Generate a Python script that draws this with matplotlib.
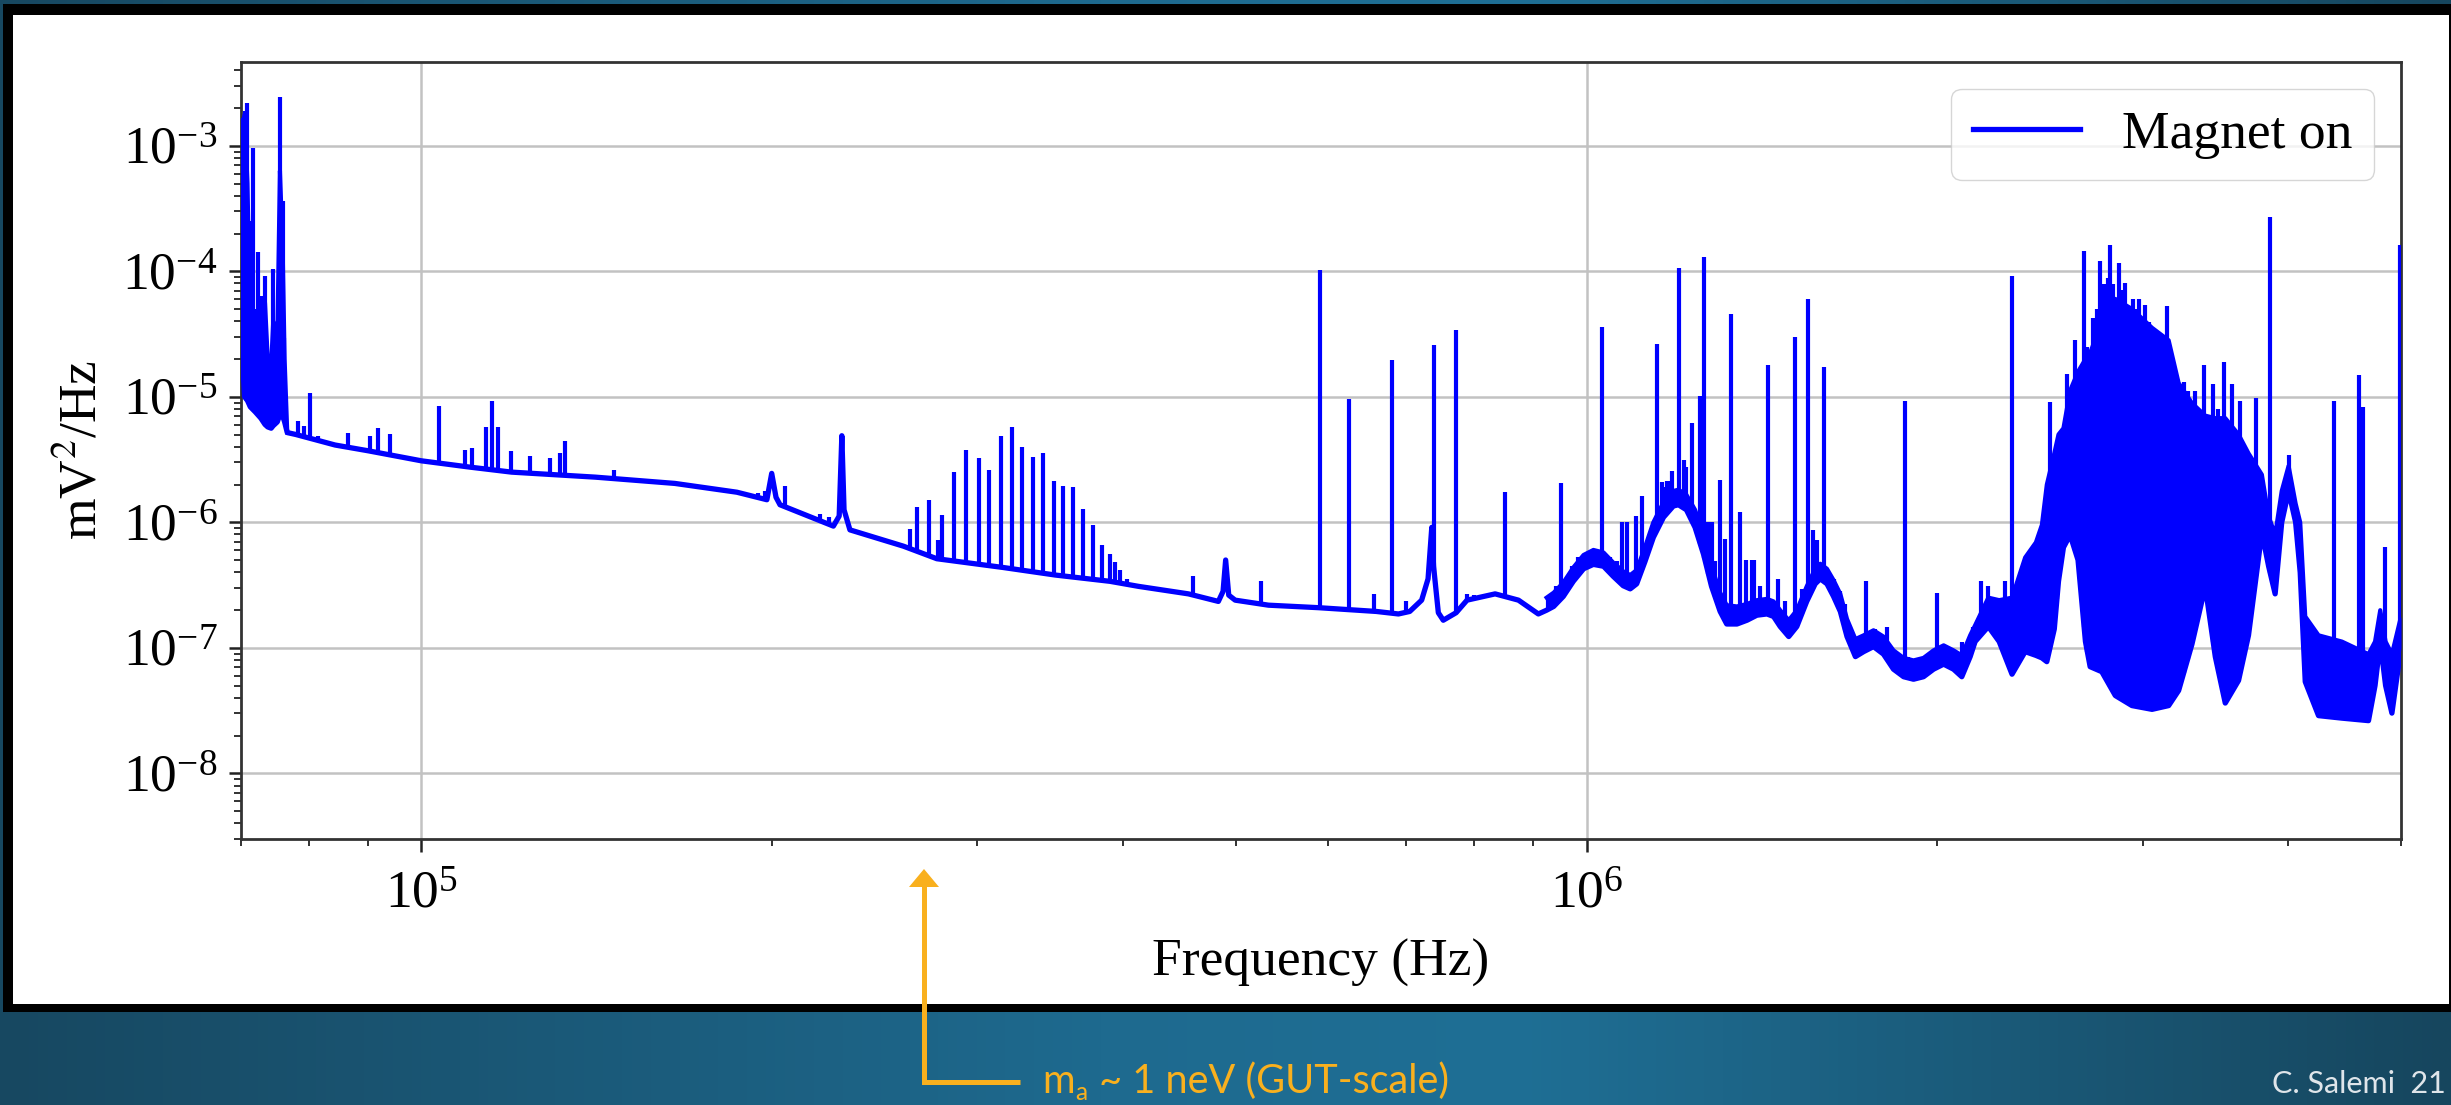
import numpy as np
import matplotlib
matplotlib.use("Agg")
import matplotlib.pyplot as plt
from matplotlib.patches import Rectangle, Polygon
from matplotlib.colors import LinearSegmentedColormap

# ---------------------------------------------------------------------------
# Power spectral density, "Magnet on" run.  Levels are stored as log10(mV^2/Hz)
# ---------------------------------------------------------------------------

# dense low-frequency pickup region: lower / upper edge of the filled trace
band1_freq = [70.0e3, 70.5e3, 70.9e3, 71.3e3, 72.0e3, 72.8e3, 73.4e3, 73.8e3,
              74.3e3, 74.6e3, 75.2e3, 75.6e3, 76.0e3, 76.3e3, 76.7e3]
band1_low = [-4.50, -5.00, -5.03, -5.08, -5.12, -5.17, -5.22, -5.24,
             -5.25, -5.23, -5.20, -5.14, -5.15, -5.20, -5.285]
band1_high = [-2.90, -2.75, -3.30, -4.50, -4.45, -4.30, -4.25, -4.70,
              -4.75, -4.40, -4.55, -3.20, -3.80, -4.70, -5.285]

# smooth noise floor between the two dense regions
floor_freq = [78.0e3, 84.3e3, 90e3, 100e3, 110e3, 119.5e3, 130e3, 141e3, 165e3,
              186.5e3, 197.9e3, 199.8e3, 201.5e3, 203.1e3, 225.7e3, 228.3e3,
              229.5e3, 230.5e3, 233.2e3, 259.2e3, 276.9e3, 315.8e3, 350e3,
              389.9e3, 412.4e3, 455.3e3, 483e3, 487.5e3, 490e3, 493e3, 499.3e3,
              533.3e3, 588.8e3, 660e3, 689.4e3, 705e3, 721.8e3, 731e3, 736.4e3,
              739e3, 746e3, 753.3e3, 772.7e3, 789.5e3, 834.6e3, 874e3, 909e3]
floor_log = [-5.30, -5.384, -5.43, -5.51, -5.56, -5.60, -5.62, -5.64, -5.69,
             -5.76, -5.82, -5.61, -5.80, -5.86, -6.03, -5.95,
             -5.31, -5.90, -6.06, -6.19, -6.29, -6.36, -6.42,
             -6.47, -6.51, -6.57, -6.63, -6.55, -6.30, -6.58, -6.62,
             -6.66, -6.68, -6.71, -6.73, -6.71, -6.62, -6.45, -6.04,
             -6.35, -6.72, -6.78, -6.72, -6.62, -6.57, -6.62, -6.73]

# high-frequency region: resonance humps and the dense oscillation band
band2_freq = [924e3, 937e3, 955e3, 974e3, 994e3, 1.0135e6, 1.034e6, 1.054e6,
              1.075e6, 1.090e6, 1.104e6, 1.122e6, 1.141e6, 1.164e6, 1.187e6,
              1.199e6, 1.218e6, 1.239e6, 1.260e6, 1.280e6, 1.302e6, 1.319e6,
              1.346e6, 1.373e6, 1.400e6, 1.428e6, 1.447e6, 1.466e6, 1.491e6,
              1.515e6, 1.545e6, 1.571e6, 1.587e6, 1.608e6, 1.629e6, 1.651e6,
              1.673e6, 1.701e6, 1.729e6, 1.763e6, 1.798e6, 1.834e6, 1.871e6,
              1.908e6, 1.946e6, 1.985e6, 2.025e6, 2.065e6, 2.099e6, 2.134e6,
              2.155e6,
              2.212e6, 2.26e6, 2.318e6, 2.379e6, 2.43e6, 2.459e6, 2.483e6,
              2.52e6, 2.541e6, 2.566e6, 2.600e6, 2.641e6, 2.68e6, 2.705e6,
              2.768e6, 2.843e6, 2.938e6, 3.057e6, 3.159e6, 3.222e6, 3.308e6,
              3.396e6, 3.464e6, 3.533e6, 3.627e6, 3.699e6, 3.798e6, 3.849e6,
              3.899e6, 3.95e6, 4.004e6, 4.06e6, 4.097e6, 4.138e6, 4.248e6,
              4.449e6, 4.689e6, 4.75e6, 4.799e6, 4.85e6, 4.911e6, 5.0e6]
band2_low = [-6.70, -6.67, -6.59, -6.47, -6.37, -6.335, -6.35, -6.43,
             -6.505, -6.53, -6.49, -6.315, -6.12, -5.96, -5.87,
             -5.86, -5.90, -6.04, -6.255, -6.51, -6.71, -6.81,
             -6.81, -6.78, -6.74, -6.73, -6.75, -6.83, -6.91,
             -6.83, -6.63, -6.49, -6.45, -6.49, -6.59, -6.71,
             -6.91, -7.07, -7.03, -6.99, -7.05, -7.17, -7.23,
             -7.25, -7.23, -7.17, -7.13, -7.17, -7.23, -7.07,
             -6.95,
             -6.83, -6.95, -7.21, -7.03, -7.06, -7.08, -7.11,
             -6.85, -6.47, -6.20, -6.10, -6.30, -6.95, -7.15,
             -7.19, -7.38, -7.46, -7.49, -7.46, -7.34, -6.97,
             -6.51, -7.07, -7.44, -7.26, -6.90, -6.08, -6.35,
             -6.57, -6.00, -5.75, -6.00, -6.40, -7.27, -7.54,
             -7.56, -7.58, -7.30, -6.95, -7.30, -7.52, -7.00]
band2_high = [-6.60, -6.56, -6.48, -6.36, -6.26, -6.22, -6.24, -6.32,
              -6.39, -6.42, -6.38, -6.20, -6.00, -5.84, -5.75,
              -5.74, -5.78, -5.90, -6.10, -6.35, -6.56, -6.66,
              -6.67, -6.65, -6.62, -6.61, -6.63, -6.70, -6.78,
              -6.70, -6.51, -6.37, -6.33, -6.37, -6.46, -6.57,
              -6.77, -6.93, -6.90, -6.86, -6.91, -7.02, -7.08,
              -7.10, -7.08, -7.02, -6.98, -7.02, -7.06, -6.90,
              -6.82,
              -6.60, -6.62, -6.60, -6.28, -6.16, -6.02, -5.70,
              -5.45, -5.30, -5.25, -4.95, -4.80, -4.70, -4.65,
              -4.40, -4.22, -4.30, -4.45, -4.55, -4.89, -5.05,
              -5.15, -5.17, -5.17, -5.30, -5.45, -5.62, -5.95,
              -6.10, -5.75, -5.55, -5.85, -6.00, -6.75, -6.90,
              -6.95, -7.05, -6.95, -6.70, -6.95, -7.05, -6.75]

# narrow lines standing on the floor: frequency (Hz) and peak level
spike_freq = [
    70.2e3, 70.5e3, 70.9e3, 71.3e3, 71.7e3, 72.1e3, 72.4e3, 72.9e3, 73.4e3,
    74.0e3, 74.6e3, 75.1e3, 75.6e3, 76.0e3, 76.2e3,
    78.3e3, 79.3e3, 80.2e3, 81.5e3, 86.5e3, 90.3e3, 91.7e3, 94.0e3, 103.6e3,
    109e3, 110.5e3, 113.7e3, 114.9e3, 116.4e3, 119.3e3, 123.8e3, 128.8e3,
    131.5e3, 132.8e3, 146.3e3,
    192.8e3, 194.6e3, 197.2e3, 205.2e3, 219.9e3, 223.9e3,
    262.7e3, 266.1e3, 272.9e3, 277.8e3, 280.0e3, 286.5e3, 293.5e3, 300.7e3,
    307.2e3, 314.2e3, 321.0e3, 327.9e3, 335.1e3, 341.8e3, 348.7e3, 355.6e3,
    362.7e3, 369.9e3, 376.8e3, 383.6e3,
    389.9e3, 393.8e3, 397.7e3, 403e3, 459.8e3, 525.6e3, 590.7e3, 625.8e3,
    657.5e3, 680.5e3, 700e3, 740e3, 772.7e3, 789.5e3, 799.7e3, 851.3e3,
    951e3, 980e3, 1.030e6, 1.072e6, 1.083e6, 1.102e6, 1.115e6, 1.150e6,
    1.165e6, 1.18e6, 1.201e6, 1.215e6, 1.231e6, 1.252e6, 1.262e6, 1.28e6,
    1.302e6, 1.315e6, 1.331e6, 1.353e6, 1.37e6, 1.386e6, 1.431e6, 1.46e6,
    1.510e6, 1.550e6, 1.564e6, 1.600e6, 1.63e6, 1.651e6, 1.738e6, 1.810e6,
    1.877e6, 1.999e6, 2.10e6,
    2.318e6, 2.500e6, 2.533e6, 2.583e6, 2.626e6, 2.65e6, 2.673e6, 2.69e6,
    2.723e6, 2.74e6, 2.759e6, 2.780e6, 2.80e6, 2.815e6, 2.83e6, 2.862e6,
    2.88e6, 2.900e6, 2.942e6, 2.96e6, 2.977e6, 3.016e6, 3.04e6, 3.077e6,
    3.11e6, 3.149e6, 3.201e6, 3.254e6, 3.28e6, 3.33e6, 3.385e6, 3.45e6,
    3.48e6, 3.521e6, 3.58e6, 3.639e6, 3.756e6, 3.861e6, 4.004e6, 4.376e6,
    4.598e6, 4.635e6, 4.84e6, 4.99e6]
spike_log = [
    -2.78, -2.72, -2.663, -3.60, -3.016, -4.30, -3.85, -4.20, -4.04,
    -4.67, -3.98, -4.60, -2.61, -3.44, -4.53,
    -5.19, -5.23, -4.97, -5.31, -5.29, -5.31, -5.25, -5.30, -5.075,
    -5.42, -5.41, -5.24, -5.03, -5.24, -5.43, -5.47, -5.49,
    -5.45, -5.35, -5.58,
    -5.79, -5.77, -5.75, -5.71, -5.93, -5.96,
    -6.05, -5.88, -5.82, -6.14, -5.94, -5.60, -5.42, -5.49,
    -5.58, -5.31, -5.24, -5.40, -5.48, -5.45, -5.67, -5.71,
    -5.72, -5.89, -6.02, -6.18,
    -6.25, -6.32, -6.38, -6.45, -6.43, -6.47, -3.99, -5.02,
    -6.57, -4.71, -6.63, -4.59, -4.47, -6.57, -6.58, -5.76,
    -5.69, -6.38, -4.44, -6.00, -6.00, -5.95, -5.79, -4.58,
    -5.72, -5.67, -3.97, -5.60, -5.21, -4.99, -3.89, -6.00,
    -5.66, -6.13, -4.34, -5.92, -6.30, -6.30, -4.75, -6.45,
    -4.52, -4.22, -6.06, -4.76, -6.45, -6.55, -6.47, -6.83,
    -5.03, -6.56, -6.95,
    -4.04, -5.04, -5.40, -4.82, -4.55, -4.78, -3.84, -4.60,
    -4.37, -4.30, -3.92, -4.10, -4.05, -3.79, -4.10, -3.93,
    -4.15, -4.09, -4.22, -4.30, -4.22, -4.27, -4.40, -4.48,
    -4.50, -4.28, -4.80, -4.88, -4.95, -4.95, -4.75, -4.90,
    -5.10, -4.72, -4.90, -5.03, -5.01, -3.57, -5.46, -5.03,
    -4.83, -5.08, -6.20, -3.79]

# short lines riding on the resonance humps above 0.9 MHz
fine_freq = [926e3, 942e3, 971e3, 984e3, 1.047e6, 1.061e6, 1.160e6, 1.172e6,
             1.183e6, 1.212e6, 1.218e6, 1.272e6, 1.289e6, 1.391e6, 1.410e6,
             1.481e6, 1.530e6, 1.576e6, 1.619e6, 1.667e6, 1.769e6, 1.889e6,
             1.985e6, 2.045e6, 2.146e6, 2.18e6, 2.212e6, 2.24e6, 2.285e6]
fine_log = [-6.59, -6.51, -6.35, -6.28, -6.28, -6.31, -5.68, -5.67,
            -5.59, -5.50, -5.56, -6.00, -6.31, -6.30, -6.51,
            -6.63, -6.53, -6.14, -6.47, -6.65, -6.85, -7.07,
            -7.01, -7.03, -6.83, -6.47, -6.51, -6.63, -6.47]

x_limits = (7e4, 5e6)
y_limits = (3.0e-9, 4.65e-3)

# ---------------------------------------------------------------------------
W, H, DPI = 2451, 1105, 100
TRACE = "#0000ff"
ORANGE = "#f9b01e"

plt.rcParams["font.family"] = ["Liberation Serif", "DejaVu Serif"]
plt.rcParams["mathtext.fontset"] = "stix"

fig = plt.figure(figsize=(W / DPI, H / DPI), dpi=DPI)

# slide background: teal gradient with a framed white panel
bg = fig.add_axes([0, 0, 1, 1])
bg.set_axis_off()
bg.set_xlim(0, W)
bg.set_ylim(H, 0)
slide_cmap = LinearSegmentedColormap.from_list(
    "slide", [(0.0, "#174861"), (0.45, "#1e6a8f"), (0.62, "#1f6f95"),
              (1.0, "#16465e")])
bg.imshow(np.linspace(0, 1, 512)[None, :], cmap=slide_cmap, aspect="auto",
          extent=[0, W, H, 0], zorder=0)
bg.add_patch(Rectangle((3, 4), W, 1008, facecolor="black", edgecolor="none",
                       zorder=1))
bg.add_patch(Rectangle((13, 15), 2436, 989, facecolor="white",
                       edgecolor="none", zorder=2))

# spectrum axes
ax = fig.add_axes([241 / W, (H - 839) / H, 2160 / W, 777 / H])
ax.set_xscale("log")
ax.set_yscale("log")

f1 = np.array(band1_freq)
f2 = np.array(band2_freq)
ff = np.array(floor_freq)
low1 = 10.0 ** np.array(band1_low)
high1 = 10.0 ** np.array(band1_high)
low2 = 10.0 ** np.array(band2_low)
high2 = 10.0 ** np.array(band2_high)
flo = 10.0 ** np.array(floor_log)

trace_f = np.concatenate([f1, ff, f2])
trace_v = np.concatenate([low1, flo, low2])

LW = 3.8
SPIKE_LW = 3.0
ax.fill_between(f1, low1, high1, color=TRACE, lw=0, zorder=3)
ax.fill_between(f2, low2, high2, color=TRACE, lw=0, zorder=3)
ax.plot(f1, high1, color=TRACE, lw=SPIKE_LW, zorder=3)
ax.plot(f2, high2, color=TRACE, lw=SPIKE_LW, zorder=3)
line, = ax.plot(trace_f, trace_v, color=TRACE, lw=LW, zorder=4,
                label="Magnet on", solid_joinstyle="round")


def draw_lines(freqs, logs):
    """Vertical lines rising from the drawn floor at each frequency."""
    f = np.array(freqs)
    base = 10.0 ** np.interp(np.log10(f), np.log10(trace_f),
                             np.log10(trace_v))
    ax.vlines(f, base, 10.0 ** np.array(logs), colors=TRACE,
              lw=SPIKE_LW, zorder=4)


draw_lines(spike_freq, spike_log)
draw_lines(fine_freq, fine_log)

ax.set_xlim(*x_limits)
ax.set_ylim(*y_limits)

FS = 38.5
ax.grid(True, which="major", color="#c2c2c2", lw=1.8)
ax.set_axisbelow(True)
ax.tick_params(which="major", direction="out", length=9, width=1.8,
               labelsize=FS, color="#222222")
ax.tick_params(which="minor", direction="out", length=5, width=1.3,
               color="#222222")
ax.tick_params(axis="y", which="major", pad=8)
ax.tick_params(axis="x", which="major", pad=14)
for sp in ax.spines.values():
    sp.set_linewidth(2.0)
    sp.set_color("#333333")

ax.set_xlabel("Frequency (Hz)", fontsize=FS)
ax.set_ylabel("mV$^2$/Hz", fontsize=FS)
ax.xaxis.set_label_coords(0.5, -0.129)
ax.yaxis.set_label_coords(-0.062, 0.5)

leg = ax.legend(loc="upper right", fontsize=FS, frameon=True, fancybox=True,
                framealpha=0.8, edgecolor="0.8")

# slide overlay: annotation arrow, caption and footer
ov = fig.add_axes([0, 0, 1, 1], zorder=10)
ov.set_axis_off()
ov.patch.set_alpha(0)
ov.set_xlim(0, W)
ov.set_ylim(H, 0)

ov.plot([1020, 924, 924], [1082, 1082, 884], color=ORANGE, lw=3.6,
        solid_joinstyle="miter", solid_capstyle="butt")
ov.add_patch(Polygon([(909, 887), (939, 887), (924, 869)], closed=True,
                     facecolor=ORANGE, edgecolor="none"))

SANS = ["Lato", "DejaVu Sans"]
cap_fs = 28.5
renderer = fig.canvas.get_renderer()
x0, yb = 1042, 1093
t1 = ov.text(x0, yb, "m", color=ORANGE, fontsize=cap_fs, family=SANS,
             ha="left", va="baseline")
w1 = t1.get_window_extent(renderer).width
t2 = ov.text(x0 + w1 + 1, yb + 7, "a", color=ORANGE, fontsize=cap_fs * 0.62,
             family=SANS, ha="left", va="baseline")
w2 = t2.get_window_extent(renderer).width
ov.text(x0 + w1 + w2 + 2, yb, " ~ 1 neV (GUT-scale)", color=ORANGE,
        fontsize=cap_fs, family=SANS, ha="left", va="baseline")

ov.text(2446, 1093, "C. Salemi  21", color="#dfe5ea", fontsize=22,
        family=SANS, ha="right", va="baseline")

fig.savefig("out.png", dpi=DPI)
